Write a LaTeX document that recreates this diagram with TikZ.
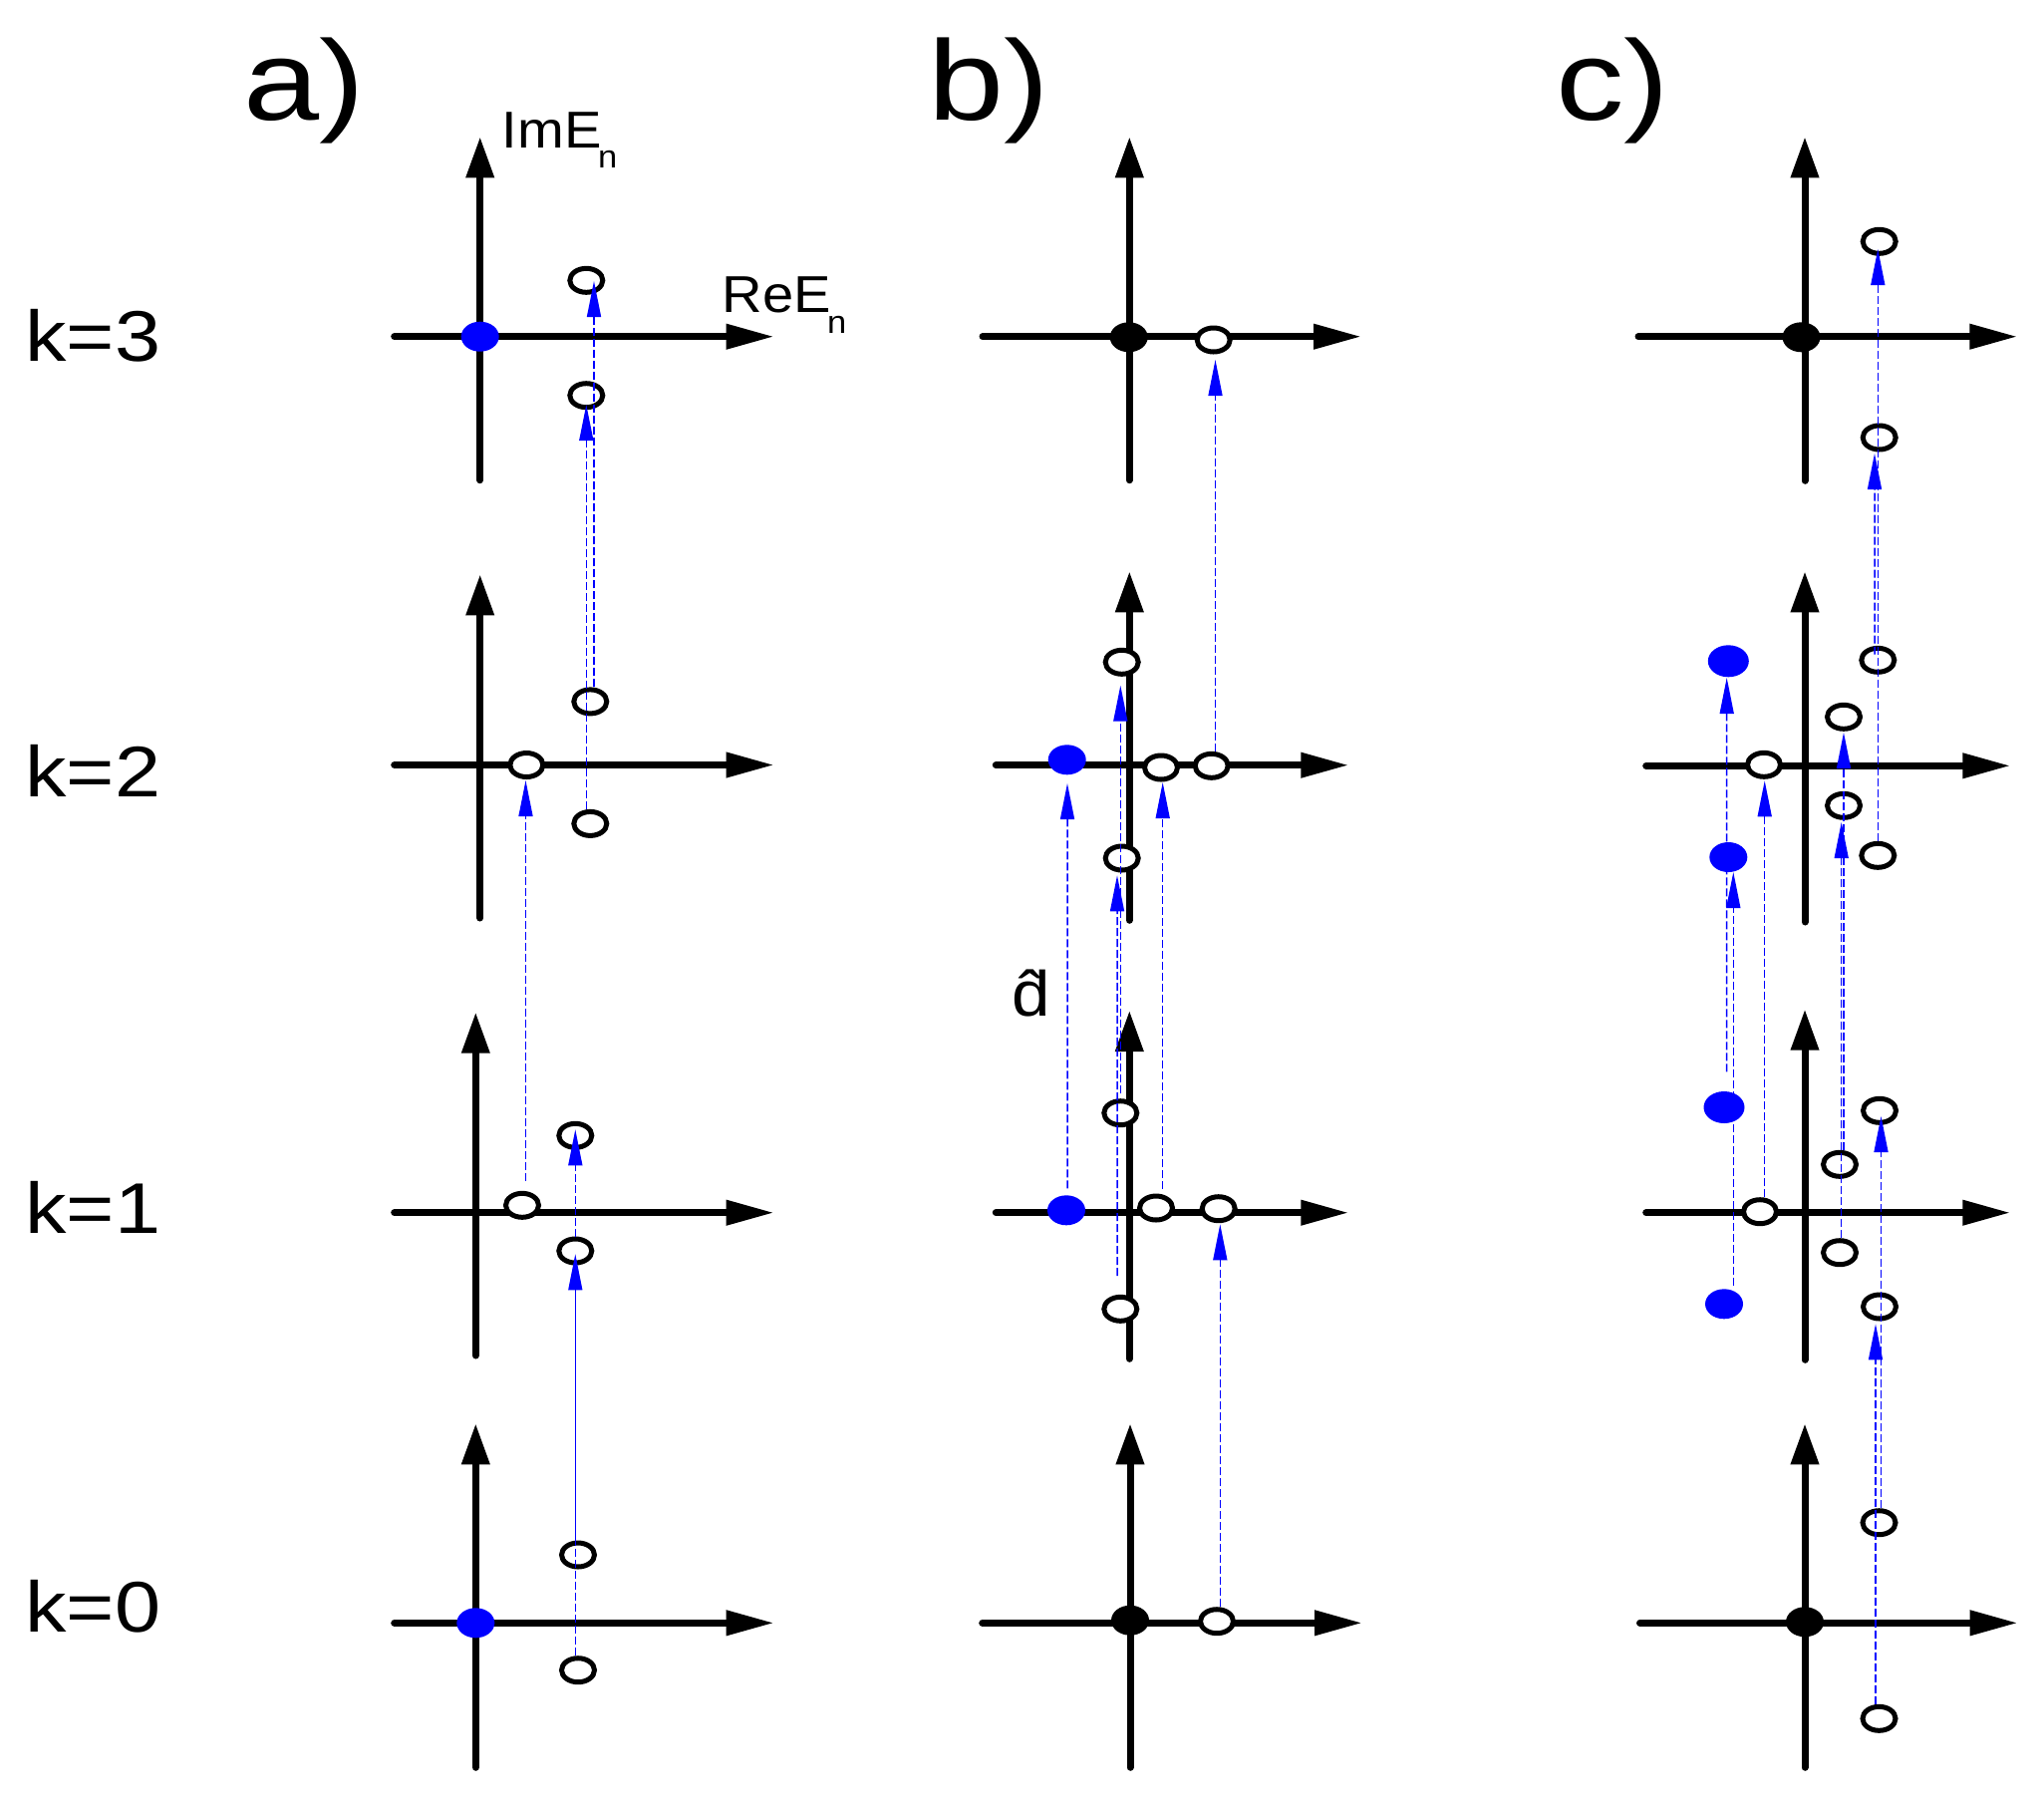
\documentclass[tikz,border=0pt]{standalone}
\usepackage{fontspec}
\setmainfont{Liberation Sans}
\newfontfamily\af[FakeStretch=1.08]{Liberation Sans}
\newfontfamily\kf[FakeStretch=1.15]{Liberation Sans}
\newfontfamily\pf[FakeStretch=1.2]{Liberation Sans}
\usetikzlibrary{arrows.meta,shapes.geometric}
\definecolor{pblue}{RGB}{0,0,255}
\begin{document}
\begin{tikzpicture}[x=0.5pt,y=-0.5pt,
  axisline/.style={line width=3.5pt, line cap=round},
  haxis/.style={axisline, -{Triangle[length=24pt,width=12pt]}},
  vaxis/.style={axisline, -{Triangle[length=20.5pt,width=13.5pt]}},
  open/.style={ellipse, draw, line width=2.5pt, fill=white, minimum width=16.5pt, minimum height=12pt, inner sep=0pt},
  bdot/.style={ellipse, fill=pblue, minimum width=19pt, minimum height=15pt, inner sep=0pt},
  bbig/.style={ellipse, fill=pblue, minimum width=20.5pt, minimum height=16pt, inner sep=0pt},
  kdot/.style={ellipse, fill=black, minimum width=19pt, minimum height=15pt, inner sep=0pt},
  barrow/.style={pblue, line width=0.75pt, dash pattern=on 4pt off 1.5pt, -{Triangle[length=18pt,width=7pt]}},
  bline/.style={pblue, line width=0.75pt, dash pattern=on 4pt off 1.5pt},
  bsolid/.style={pblue, line width=0.6pt, -{Triangle[length=18pt,width=7pt]}},
  klab/.style={anchor=base west, inner sep=0pt, font=\kf\fontsize{36}{40}\selectfont},
  plab/.style={anchor=base west, inner sep=0pt, font=\pf\fontsize{57}{60}\selectfont},
  alab/.style={anchor=base west, inner sep=0pt, font=\af\fontsize{26}{30}\selectfont},
  slab/.style={anchor=base west, inner sep=0pt, font=\af\fontsize{16}{18}\selectfont},
  dlab/.style={anchor=base west, inner sep=0pt, font=\af\fontsize{32}{36}\selectfont}]
\useasboundingbox (0,0) rectangle (2051,1811);

% ---------- axes ----------
% panel a
\draw[haxis] (395.7,337.7) -- (776.7,337.7);  \draw[vaxis] (481.7,481.7) -- (481.7,137.3);
\draw[haxis] (395.7,767.5) -- (776.7,767.5);  \draw[vaxis] (481.7,921) -- (481.7,576.4);
\draw[haxis] (395.7,1216.7) -- (776.7,1216.7);\draw[vaxis] (477.3,1360) -- (477.3,1015.7);
\draw[haxis] (395.7,1628.3) -- (776.7,1628.3);\draw[vaxis] (477.3,1773.3) -- (477.3,1428.3);
% panel b
\draw[haxis] (986,337.7) -- (1366,337.7);     \draw[vaxis] (1133.3,481.7) -- (1133.3,137.3);
\draw[haxis] (999.3,767.7) -- (1353.3,767.7); \draw[vaxis] (1133.3,923.3) -- (1133.3,573.3);
\draw[haxis] (999.3,1216.7) -- (1353.3,1216.7);\draw[vaxis] (1133.3,1363.3) -- (1133.3,1014);
\draw[haxis] (985.7,1628.3) -- (1367,1628.3); \draw[vaxis] (1134,1773.3) -- (1134,1428.3);
% panel c
\draw[haxis] (1644,337.7) -- (2024.3,337.7);  \draw[vaxis] (1811,482.3) -- (1811,137.3);
\draw[haxis] (1651.7,768.3) -- (2017.3,768.3);\draw[vaxis] (1811,925) -- (1811,573.3);
\draw[haxis] (1651.7,1216.7) -- (2017.3,1216.7);\draw[vaxis] (1811,1364.3) -- (1811,1012.7);
\draw[haxis] (1645.5,1628.3) -- (2024.7,1628.3);\draw[vaxis] (1811,1773.3) -- (1811,1428.3);

% ---------- markers ----------
% panel a
\node[bdot] (a3o) at (481.7,337.7) {};
\node[open] (a3u) at (588.3,281.3) {};
\node[open] (a3l) at (588.3,396.7) {};
\node[open] (a2c) at (528.3,767.5) {};
\node[open] (a2u) at (592.3,703.9) {};
\node[open] (a2l) at (592.3,826.4) {};
\node[open] (a1c) at (524,1209.3) {};
\node[open] (a1u) at (577.3,1139.3) {};
\node[open] (a1l) at (577.3,1255) {};
\node[bdot] (a0o) at (477.3,1628.3) {};
\node[open] (a0u) at (580,1560) {};
\node[open] (a0l) at (580,1675.7) {};
% panel b
\node[kdot] (b3o) at (1132.7,338.3) {};
\node[open] (b3c) at (1217.7,341) {};
\node[bdot] (b2b) at (1070.7,762.3) {};
\node[open] (b2c1) at (1165,770) {};
\node[open] (b2c2) at (1215.7,768.3) {};
\node[open] (b2u) at (1125.7,664.3) {};
\node[open] (b2l) at (1125.7,861) {};
\node[bdot] (b1b) at (1070,1214.3) {};
\node[open] (b1c1) at (1160,1212) {};
\node[open] (b1c2) at (1222.7,1212.7) {};
\node[open] (b1u) at (1124.3,1116.7) {};
\node[open] (b1l) at (1124.3,1313.3) {};
\node[kdot] (b0o) at (1134,1625.7) {};
\node[open] (b0c) at (1221,1626.7) {};
% panel c
\node[kdot] (c3o) at (1807.5,338.3) {};
\node[open] (c3u) at (1885.7,242.3) {};
\node[open] (c3l) at (1885.7,439) {};
\node[bbig] (c2bu) at (1734.3,663.3) {};
\node[bdot] (c2bl) at (1734.3,860) {};
\node[open] (c2c) at (1770,767.3) {};
\node[open] (c2mu) at (1850,719.3) {};
\node[open] (c2ml) at (1850,808.3) {};
\node[open] (c2ru) at (1884.3,662.3) {};
\node[open] (c2rl) at (1884.3,858.3) {};
\node[bbig] (c1bu) at (1730,1111) {};
\node[bdot] (c1bl) at (1730,1308.3) {};
\node[open] (c1c) at (1766,1215.7) {};
\node[open] (c1mu) at (1846,1168.3) {};
\node[open] (c1ml) at (1846,1256.7) {};
\node[open] (c1ru) at (1886,1114.3) {};
\node[open] (c1rl) at (1886,1311) {};
\node[kdot] (c0o) at (1811,1627.3) {};
\node[open] (c0u) at (1885.5,1527.7) {};
\node[open] (c0l) at (1885.5,1724.3) {};

% ---------- connectors ----------
% panel a
\draw[barrow] ([xshift=1.85pt]a2u.north) -- ([xshift=3.85pt,yshift=-0.35pt]a3u.center);
\draw[barrow] ([xshift=-2pt]a2l.north) -- ([yshift=-4.65pt]a3l.center);
\draw[barrow] ([xshift=1.75pt,yshift=5pt]a1c.north) -- ([xshift=-0.4pt,yshift=-7.75pt]a2c.center);
\draw[barrow] (a1l.north) -- ([yshift=3pt]a1u.center);
\draw[bsolid] ([xshift=-1.35pt]a0u.north) -- ([yshift=-1.65pt]a1l.center);
\draw[bline] ([xshift=-1.35pt]a0l.north) -- ([xshift=-1.35pt]a0u.north);
% panel b
\draw[barrow] ([xshift=1.9pt]b2c2.north) -- ([xshift=0.9pt,yshift=-10pt]b3c.center);
\draw[barrow] ([yshift=2.5pt]b1u.north) -- ([xshift=-0.7pt,yshift=-11.7pt]b2u.center);
\draw[barrow] ([xshift=-1.65pt,yshift=9.4pt]b1l.north) -- ([xshift=-2.35pt,yshift=-8.65pt]b2l.center);
\draw[barrow] ([xshift=0.5pt,yshift=3.3pt]b1b.north) -- ([xshift=0.15pt,yshift=-11.85pt]b2b.center);
\draw[barrow] ([xshift=3.35pt,yshift=2.4pt]b1c1.north) -- ([xshift=0.85pt,yshift=-7.5pt]b2c1.center);
\draw[barrow] ([xshift=1.65pt]b0c.north) -- ([xshift=0.8pt,yshift=-7.8pt]b1c2.center);
% panel c
\draw[barrow] (c2rl.north) -- ([xshift=-0.7pt,yshift=-3.85pt]c3u.center);
\draw[barrow] ([xshift=-1.65pt,yshift=-4.4pt]c2ru.north) -- ([xshift=-2.35pt,yshift=-8pt]c3l.center);
\draw[barrow] ([xshift=1.35pt,yshift=9.65pt]c1bu.north) -- ([xshift=-0.8pt,yshift=-8.35pt]c2bu.center);
\draw[barrow] ([xshift=4.65pt,yshift=1.65pt]c1bl.north) -- ([xshift=2.5pt,yshift=-7.5pt]c2bl.center);
\draw[barrow] ([xshift=2.35pt]c1c.north) -- ([xshift=0.35pt,yshift=-8pt]c2c.center);
\draw[barrow] ([xshift=2pt]c1mu.north) -- ([yshift=-7.85pt]c2mu.center);
\draw[barrow] ([xshift=0.85pt]c1ml.north) -- ([xshift=-1.15pt,yshift=-8.35pt]c2ml.center);
\draw[barrow] ([xshift=1pt]c0u.north) -- ([xshift=0.75pt,yshift=-2.85pt]c1ru.center);
\draw[barrow] ([xshift=-1.75pt]c0l.north) -- ([xshift=-2pt,yshift=-8.65pt]c1rl.center);

% ---------- labels ----------
\node[plab] (pa) at (244,120) {a)};
\node[plab] (pb) at (931,120) {b)};
\node[plab] (pc) at (1561,120) {c)};
\node[klab] (k3) at (25,362) {k=3};
\node[klab] (k2) at (25,799) {k=2};
\node[klab] (k1) at (25,1237) {k=1};
\node[klab] (k0) at (25,1637) {k=0};
\node[alab] (im) at (503.4,148.3) {ImE};
\node[slab] (imn) at (599.7,168.3) {n};
\node[alab] (re) at (724.3,313.3) {ReE};
\node[slab] (ren) at (829.7,334) {n};
\node[dlab] (dh) at (1014.7,1019.3) {\^{d}};
\end{tikzpicture}
\end{document}
